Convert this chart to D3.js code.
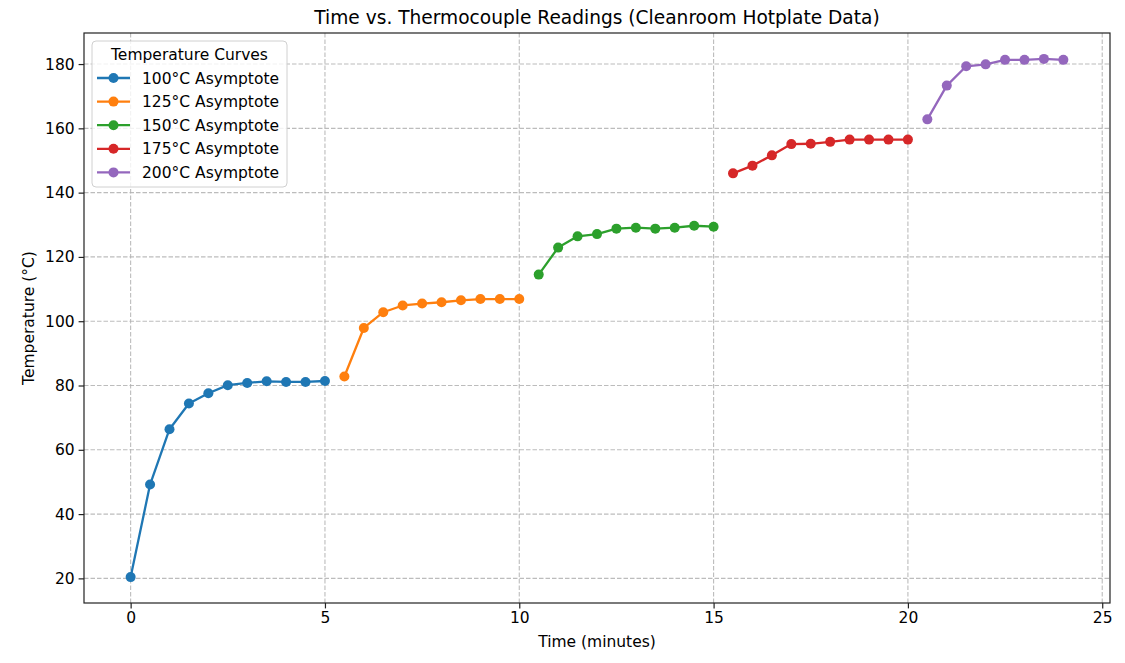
<!DOCTYPE html>
<html lang="en">
<head>
<meta charset="UTF-8">
<title>Time vs. Thermocouple Readings</title>
<script src="https://d3js.org/d3.v7.min.js"></script>
<style>
    body { margin: 0; background: #fff; font-family: "DejaVu Sans", sans-serif; }
    svg text { fill: #000; }
</style>
</head>
<body>
<svg id="chart" width="1125" height="663"></svg>
<script>
// time steps (minutes) and readings for each hotplate setting
const seriesNames = ["100°C Asymptote", "125°C Asymptote", "150°C Asymptote", "175°C Asymptote", "200°C Asymptote"];
const seriesColors = ["#1f77b4", "#ff7f0e", "#2ca02c", "#d62728", "#9467bd"];

const time100 = [0, 0.5, 1, 1.5, 2, 2.5, 3, 3.5, 4, 4.5, 5];
const temp100 = [20.4, 49.2, 66.4, 74.4, 77.6, 80.1, 80.8, 81.3, 81.1, 81.1, 81.4];

const time125 = [5.5, 6, 6.5, 7, 7.5, 8, 8.5, 9, 9.5, 10];
const temp125 = [82.8, 97.9, 102.8, 104.9, 105.5, 105.9, 106.5, 106.9, 106.9, 106.9];

const time150 = [10.5, 11, 11.5, 12, 12.5, 13, 13.5, 14, 14.5, 15];
const temp150 = [114.5, 122.9, 126.4, 127.1, 128.8, 129.1, 128.8, 129.1, 129.7, 129.4];

const time175 = [15.5, 16, 16.5, 17, 17.5, 18, 18.5, 19, 19.5, 20];
const temp175 = [146.0, 148.4, 151.6, 155.1, 155.2, 155.8, 156.5, 156.5, 156.5, 156.5];

const time200 = [20.5, 21, 21.5, 22, 22.5, 23, 23.5, 24];
const temp200 = [162.8, 173.3, 179.3, 179.9, 181.3, 181.3, 181.6, 181.3];

const xTicks = [0, 5, 10, 15, 20, 25];
const yTicks = [20, 40, 60, 80, 100, 120, 140, 160, 180];

const series = [
    [time100, temp100], [time125, temp125], [time150, temp150],
    [time175, temp175], [time200, temp200]
].map(([t, v], i) => ({
    name: seriesNames[i],
    color: seriesColors[i],
    points: t.map((x, j) => ({ x: x, y: v[j] }))
}));

const svg = d3.select("#chart");
const margin = { left: 84, right: 15, top: 33, bottom: 60 };
const W = 1125, H = 663;
const x0 = margin.left, x1 = W - margin.right;
const y0 = H - margin.bottom, y1 = margin.top;
const fs = 15.5;   // base font size
const markerR = 5;

// matplotlib-style 5% margins around the data
const allX = series.flatMap(s => s.points.map(p => p.x));
const allY = series.flatMap(s => s.points.map(p => p.y));
const [xmin, xmax] = d3.extent(allX);
const [ymin, ymax] = d3.extent(allY);
const xpad = (xmax - xmin) * 0.05, ypad = (ymax - ymin) * 0.05;

const x = d3.scaleLinear().domain([xmin - xpad, xmax + xpad]).range([x0, x1]);
const y = d3.scaleLinear().domain([ymin - ypad, ymax + ypad]).range([y0, y1]);

// grid
const grid = svg.append("g")
    .attr("stroke", "#b0b0b0")
    .attr("stroke-opacity", 0.85)
    .attr("stroke-width", 1.1)
    .attr("stroke-dasharray", "4.5,2");
grid.selectAll(".gx").data(xTicks).enter().append("line")
    .attr("x1", d => x(d)).attr("x2", d => x(d))
    .attr("y1", y0).attr("y2", y1);
grid.selectAll(".gy").data(yTicks).enter().append("line")
    .attr("y1", d => y(d)).attr("y2", d => y(d))
    .attr("x1", x0).attr("x2", x1);

// axes
const xAxis = svg.append("g")
    .attr("transform", `translate(0,${y0})`)
    .call(d3.axisBottom(x).tickValues(xTicks).tickSize(5.4).tickPadding(4).tickFormat(d3.format("d")));
const yAxis = svg.append("g")
    .attr("transform", `translate(${x0},0)`)
    .call(d3.axisLeft(y).tickValues(yTicks).tickSize(5.4).tickPadding(4).tickFormat(d3.format("d")));
[xAxis, yAxis].forEach(a => {
    a.select(".domain").remove();
    a.selectAll(".tick line").attr("stroke", "#222").attr("stroke-width", 1.2);
    a.selectAll(".tick text")
        .attr("font-family", "DejaVu Sans").attr("font-size", fs).attr("fill", "#111");
});

// lines and markers
const line = d3.line().x(d => x(d.x)).y(d => y(d.y));
series.forEach(s => {
    svg.append("path")
        .datum(s.points)
        .attr("d", line)
        .attr("fill", "none")
        .attr("stroke", s.color)
        .attr("stroke-width", 2.3)
        .attr("stroke-linejoin", "round");
    svg.append("g").selectAll("circle").data(s.points).enter().append("circle")
        .attr("cx", d => x(d.x)).attr("cy", d => y(d.y))
        .attr("r", markerR)
        .attr("fill", s.color);
});

// frame
svg.append("rect")
    .attr("x", x0).attr("y", y1)
    .attr("width", x1 - x0).attr("height", y0 - y1)
    .attr("fill", "none").attr("stroke", "#222").attr("stroke-width", 1.2);

// titles
svg.append("text")
    .attr("x", (x0 + x1) / 2).attr("y", 24)
    .attr("text-anchor", "middle")
    .attr("font-size", 18.6)
    .text("Time vs. Thermocouple Readings (Cleanroom Hotplate Data)");
svg.append("text")
    .attr("x", (x0 + x1) / 2).attr("y", 647)
    .attr("text-anchor", "middle")
    .attr("font-size", fs)
    .text("Time (minutes)");
svg.append("text")
    .attr("transform", `translate(34,${(y0 + y1) / 2}) rotate(-90)`)
    .attr("text-anchor", "middle")
    .attr("font-size", fs)
    .text("Temperature (°C)");

// legend
const lg = svg.append("g").attr("transform", "translate(92,41)");
lg.append("rect")
    .attr("width", 195).attr("height", 146)
    .attr("rx", 4)
    .attr("fill", "#fff").attr("fill-opacity", 0.8)
    .attr("stroke", "#d0d0d0").attr("stroke-width", 1);
lg.append("text")
    .attr("x", 97.5).attr("y", 19)
    .attr("text-anchor", "middle")
    .attr("font-size", fs)
    .text("Temperature Curves");
const items = lg.selectAll(".item").data(series).enter().append("g")
    .attr("transform", (d, i) => `translate(0,${37 + i * 23.6})`);
items.append("line")
    .attr("x1", 5).attr("x2", 38)
    .attr("stroke", d => d.color).attr("stroke-width", 2.3);
items.append("circle")
    .attr("cx", 21.5).attr("r", markerR)
    .attr("fill", d => d.color);
items.append("text")
    .attr("x", 50).attr("y", 5.5)
    .attr("font-size", fs)
    .text(d => d.name);
</script>
</body>
</html>
